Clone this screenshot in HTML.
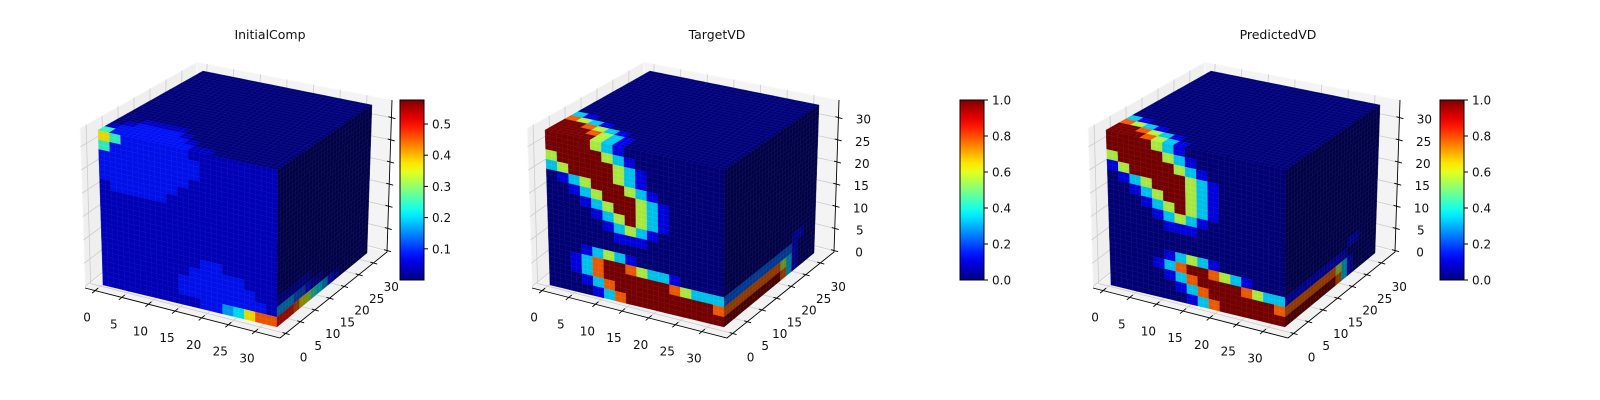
<!DOCTYPE html>
<html><head><meta charset="utf-8">
<style>
html,body{margin:0;padding:0;background:#fff;}
svg{display:block;font-family:"DejaVu Sans","Liberation Sans",sans-serif;}
</style></head>
<body>
<svg id="fig" width="1600" height="400" viewBox="0 0 1600 400" xmlns="http://www.w3.org/2000/svg">
<rect width="1600" height="400" fill="#ffffff"/>
<defs id="defs"></defs>
<g id="plots"></g>
</svg>
<script>
// ---------- data ----------
const panelTitles = ["InitialComp", "TargetVD", "PredictedVD"];
const axisTicks = [0, 5, 10, 15, 20, 25, 30];
const cbarTicks1 = [0.1, 0.2, 0.3, 0.4, 0.5];
const cbarTickLabels1 = ["0.1", "0.2", "0.3", "0.4", "0.5"];
const cbarRange1 = [0.0, 0.577];
const cbarTicks2 = [0.0, 0.2, 0.4, 0.6, 0.8, 1.0];
const cbarTickLabels2 = ["0.0", "0.2", "0.4", "0.6", "0.8", "1.0"];
const cbarRange2 = [0.0, 1.0];
// level divisor per panel: char (base36) / divisor -> colormap fraction
const levelDiv = [14, 9, 9];

const initFront = [
"9622222211111111","6222222221111111","2222222221111111","2222222211111111",
"2222222111111111","1222221111111111","1111111111111111","1111111111111111",
"1111111111111111","1111111111111111","1111111111111111","1111111112211111",
"1111111122222111","1111111222222211","1111111222222221","11111111122459bb"];
const initTop = [ // rows back -> front
"0000000000000000","0000000000000000","0000000000000000","0000000000000000",
"0000000000000000","0000000000000000","0000000000000000","0000000000000000",
"0000000000000000","0000000000000000","0000000000000000","0000000000000000",
"0011110000000000","0122221000000000","1222222100000000","6222222211000000"];
const initRight = [ // cols front -> back
"0000000000000000","0000000000000000","0000000000000000","0000000000000000",
"0000000000000000","0000000000000000","0000000000000000","0000000000000000",
"0000000000000000","0000000000000000","0000000000000000","0000000000000000",
"0000000000000000","1111110000000000","4443321100000000","cccb986542100000"];

const targetFront = [
"9999531000000000","9999953100000000","5999995310000000","3599995310000000",
"0135999531000000","0013599953100000","0001359953100000","0000135953100000",
"0000013531000000","0000001110000000","0000000000000000","0001353100000000",
"0013799753310000","0013799999975333","0001379999999997","0000137999999999"];
const targetTop = [
"0000000000000000","0000000000000000","0000000000000000","0000000000000000",
"0000000000000000","0000000000000000","0000000000000000","0000000000000000",
"0000000000000000","0000000000000000","0000000000000000","3100000000000000",
"7531000000000000","9975310000000000","9997531000000000","9999531000000000"];
const targetRight = [
"0000000000000000","0000000000000000","0000000000000000","0000000000000000",
"0000000000000000","0000000000000000","0000000000000000","0000000000000000",
"0000000000000000","0000000000000000","0000000000000000","0000000000000000",
"0000000000001100","2222222222221000","7777777777531000","9999999999731000"];

const predFront = [
"9999531000000000","9999953100000000","5999995310000000","1599999531000000",
"0135999531000000","0013599531000000","0001359531000000","0000135310000000",
"0000011100000000","0000000000000000","0000000000000000","0000013531000000",
"0000137997531000","0000013799997533","0000001379999997","0000000137999999"];
const predTop = [
"0000000000000000","0000000000000000","0000000000000000","0000000000000000",
"0000000000000000","0000000000000000","0000000000000000","0000000000000000",
"0000000000000000","0000000000000000","0000000000000000","0000000000000000",
"3100000000000000","7531000000000000","9975310000000000","9997531000000000"];
const predRight = [
"0000000000000000","0000000000000000","0000000000000000","0000000000000000",
"0000000000000000","0000000000000000","0000000000000000","0000000000000000",
"0000000000000000","0000000000000000","0000000000000000","0000000000000000",
"0000000000011000","1111111111100000","7777777775310000","9999999997310000"];

const faceData = [
  [initFront, initTop, initRight],
  [targetFront, targetTop, targetRight],
  [predFront, predTop, predRight]
];

// ---------- geometry (layout, not data) ----------
const panelDX = [0, 447, 1008];
const cbarX = [400, 960, 1440];
const cube = {A:[103,285],B:[277,327],G:[367,253],H:[204,217],D:[98,130],C:[278,170],F:[372,105],E:[203,71]};
const pane = {A:[85,288],B:[280,338],G:[387,252],H:[192,201],D:[80,128],C:[275,179],F:[392,100],E:[197,62]};
const xyRange = [-1.9, 34.7], zRange = [-0.3, 34];
const NS = "http://www.w3.org/2000/svg";

function jet(v){
  v = Math.max(0, Math.min(1, v));
  const c = t => Math.max(0, Math.min(1, t));
  return [c(1.5-Math.abs(4*v-3)), c(1.5-Math.abs(4*v-2)), c(1.5-Math.abs(4*v-1))];
}
function rgb(c, s, add){
  add = add||0;
  return "rgb(" + c.map(x => Math.min(255, Math.round(x*255*s + add))).join(",") + ")";
}
function tri(k, u, v, w, dx){
  const L = (p,q,t) => [p[0]+(q[0]-p[0])*t, p[1]+(q[1]-p[1])*t];
  const b = L(L(k.A,k.B,u), L(k.H,k.G,u), v);
  const t = L(L(k.D,k.C,u), L(k.E,k.F,u), v);
  const p = L(b, t, w);
  return [p[0]+dx, p[1]];
}
const fx = t => (t - xyRange[0])/(xyRange[1]-xyRange[0]);
const fz = t => (t - zRange[0])/(zRange[1]-zRange[0]);
function mk(tag, attrs, parent){
  const e = document.createElementNS(NS, tag);
  for (const a in attrs) e.setAttribute(a, attrs[a]);
  parent.appendChild(e);
  return e;
}
const pts = arr => arr.map(p => p[0].toFixed(1)+","+p[1].toFixed(1)).join(" ");

const root = document.getElementById("plots");
const defs = document.getElementById("defs");

for (let p = 0; p < 3; p++){
  const dx = panelDX[p];
  const g = mk("g", {}, root);
  
  

  const title = mk("text", {x: 270+dx, y: 39, "text-anchor":"middle", "font-size":"12.5", fill:"#111"}, g);
  title.textContent = panelTitles[p];
  
  

  const P = (u,v,w) => tri(pane, u, v, w, dx);
  const paneG = mk("g", {}, g);
  
  
  mk("polygon", {points: pts([P(0,0,0),P(1,0,0),P(1,1,0),P(0,1,0)]), fill:"#f2f2f2", stroke:"#fbfbfb", "stroke-width":1}, paneG);
  mk("polygon", {points: pts([P(0,0,0),P(0,1,0),P(0,1,1),P(0,0,1)]), fill:"#efefef", stroke:"#fbfbfb", "stroke-width":1}, paneG);
  mk("polygon", {points: pts([P(0,1,0),P(1,1,0),P(1,1,1),P(0,1,1)]), fill:"#f4f4f4", stroke:"#fbfbfb", "stroke-width":1}, paneG);

  const gridG = mk("g", {stroke:"#cccccc", "stroke-width":0.8, fill:"none"}, g);
  
  
  axisTicks.forEach(t => {
    const a = fx(t), c = fz(t);
    mk("polyline", {points: pts([P(a,0,0),P(a,1,0),P(a,1,1)])}, gridG);
    mk("polyline", {points: pts([P(1,a,0),P(0,a,0),P(0,a,1)])}, gridG);
    mk("polyline", {points: pts([P(0,0,c),P(0,1,c),P(1,1,c)])}, gridG);
  });

  const axG = mk("g", {stroke:"#000", "stroke-width":0.9, fill:"none"}, g);
  
  
  mk("polyline", {points: pts([P(0,0,0),P(1,0,0),P(1,1,0),P(1,1,1)])}, axG);

  const tkG = mk("g", {stroke:"#000", "stroke-width":0.9}, g);
  const lbG = mk("g", {"font-size":"12", fill:"#111", "text-anchor":"middle"}, g);
  
  
  axisTicks.forEach(t => {
    const a = fx(t), c = fz(t);
    let q = P(a,0,0);
    mk("line", {x1:q[0]+3, y1:q[1]-2.5, x2:q[0]-3, y2:q[1]+2.5}, tkG);
    let tx = mk("text", {x:q[0]-8, y:q[1]+31}, lbG); tx.textContent = t;
    
    
    q = P(1,a,0);
    mk("line", {x1:q[0]-3, y1:q[1]-1, x2:q[0]+4, y2:q[1]+1}, tkG);
    tx = mk("text", {x:q[0]+18, y:q[1]+28}, lbG); tx.textContent = t;
    
    
    q = P(1,1,c);
    mk("line", {x1:q[0]-3, y1:q[1]-1, x2:q[0]+4, y2:q[1]+1}, tkG);
    if (p > 0){
      tx = mk("text", {x:q[0]+25, y:q[1]+6}, lbG); tx.textContent = t;
      
      
    }
  });

  const Q = (u,v,w) => tri(cube, u, v, w, dx);
  const faces = faceData[p];
  const shade = [0.9, 0.95, 0.55];
  for (let f = 0; f < 3; f++){
    const fg = mk("g", {}, g);
    
    
    const grid = faces[f];
    for (let r = 0; r < 32; r++){
      for (let c = 0; c < 32; c++){
        const d = parseInt(grid[r>>1][c>>1], 36);
        const col = jet(d/levelDiv[p]);
        const u0 = c/32, u1 = (c+1)/32, h0 = 1 - r/32, h1 = 1 - (r+1)/32;
        let poly;
        if (f === 0) poly = [Q(u0,0,h0),Q(u1,0,h0),Q(u1,0,h1),Q(u0,0,h1)];
        else if (f === 1) poly = [Q(u0,h0,1),Q(u1,h0,1),Q(u1,h1,1),Q(u0,h1,1)];
        else poly = [Q(1,u0,h0),Q(1,u1,h0),Q(1,u1,h1),Q(1,u0,h1)];
        const cell = mk("polygon", {points: pts(poly), fill: rgb(col, shade[f]), stroke: rgb(col, shade[f], 14), "stroke-width":0.35}, fg);
        
        
      }
    }
  }

  const cx = cbarX[p], cy0 = 100, cy1 = 280, cw = 24;
  const gid = "jetgrad" + p;
  const lg = mk("linearGradient", {id: gid, x1:0, y1:1, x2:0, y2:0}, defs);
  for (let i = 0; i <= 20; i++) mk("stop", {offset: i/20, "stop-color": rgb(jet(i/20),1)}, lg);
  const cb = mk("g", {}, g);
  
  
  mk("rect", {x:cx, y:cy0, width:cw, height:cy1-cy0, fill:"url(#"+gid+")", stroke:"#000", "stroke-width":1}, cb);
  const ticks = p === 0 ? cbarTicks1 : cbarTicks2;
  const labels = p === 0 ? cbarTickLabels1 : cbarTickLabels2;
  const rng = p === 0 ? cbarRange1 : cbarRange2;
  ticks.forEach((t, i) => {
    const y = cy1 - (t - rng[0])/(rng[1]-rng[0])*(cy1-cy0);
    mk("line", {x1:cx+cw, y1:y, x2:cx+cw+4, y2:y, stroke:"#000", "stroke-width":1}, cb);
    const lt = mk("text", {x:cx+cw+8, y:y+4.5, "font-size":"12", fill:"#111"}, cb);
    lt.textContent = labels[i];
    
    
  });
}
</script>
</body></html>
